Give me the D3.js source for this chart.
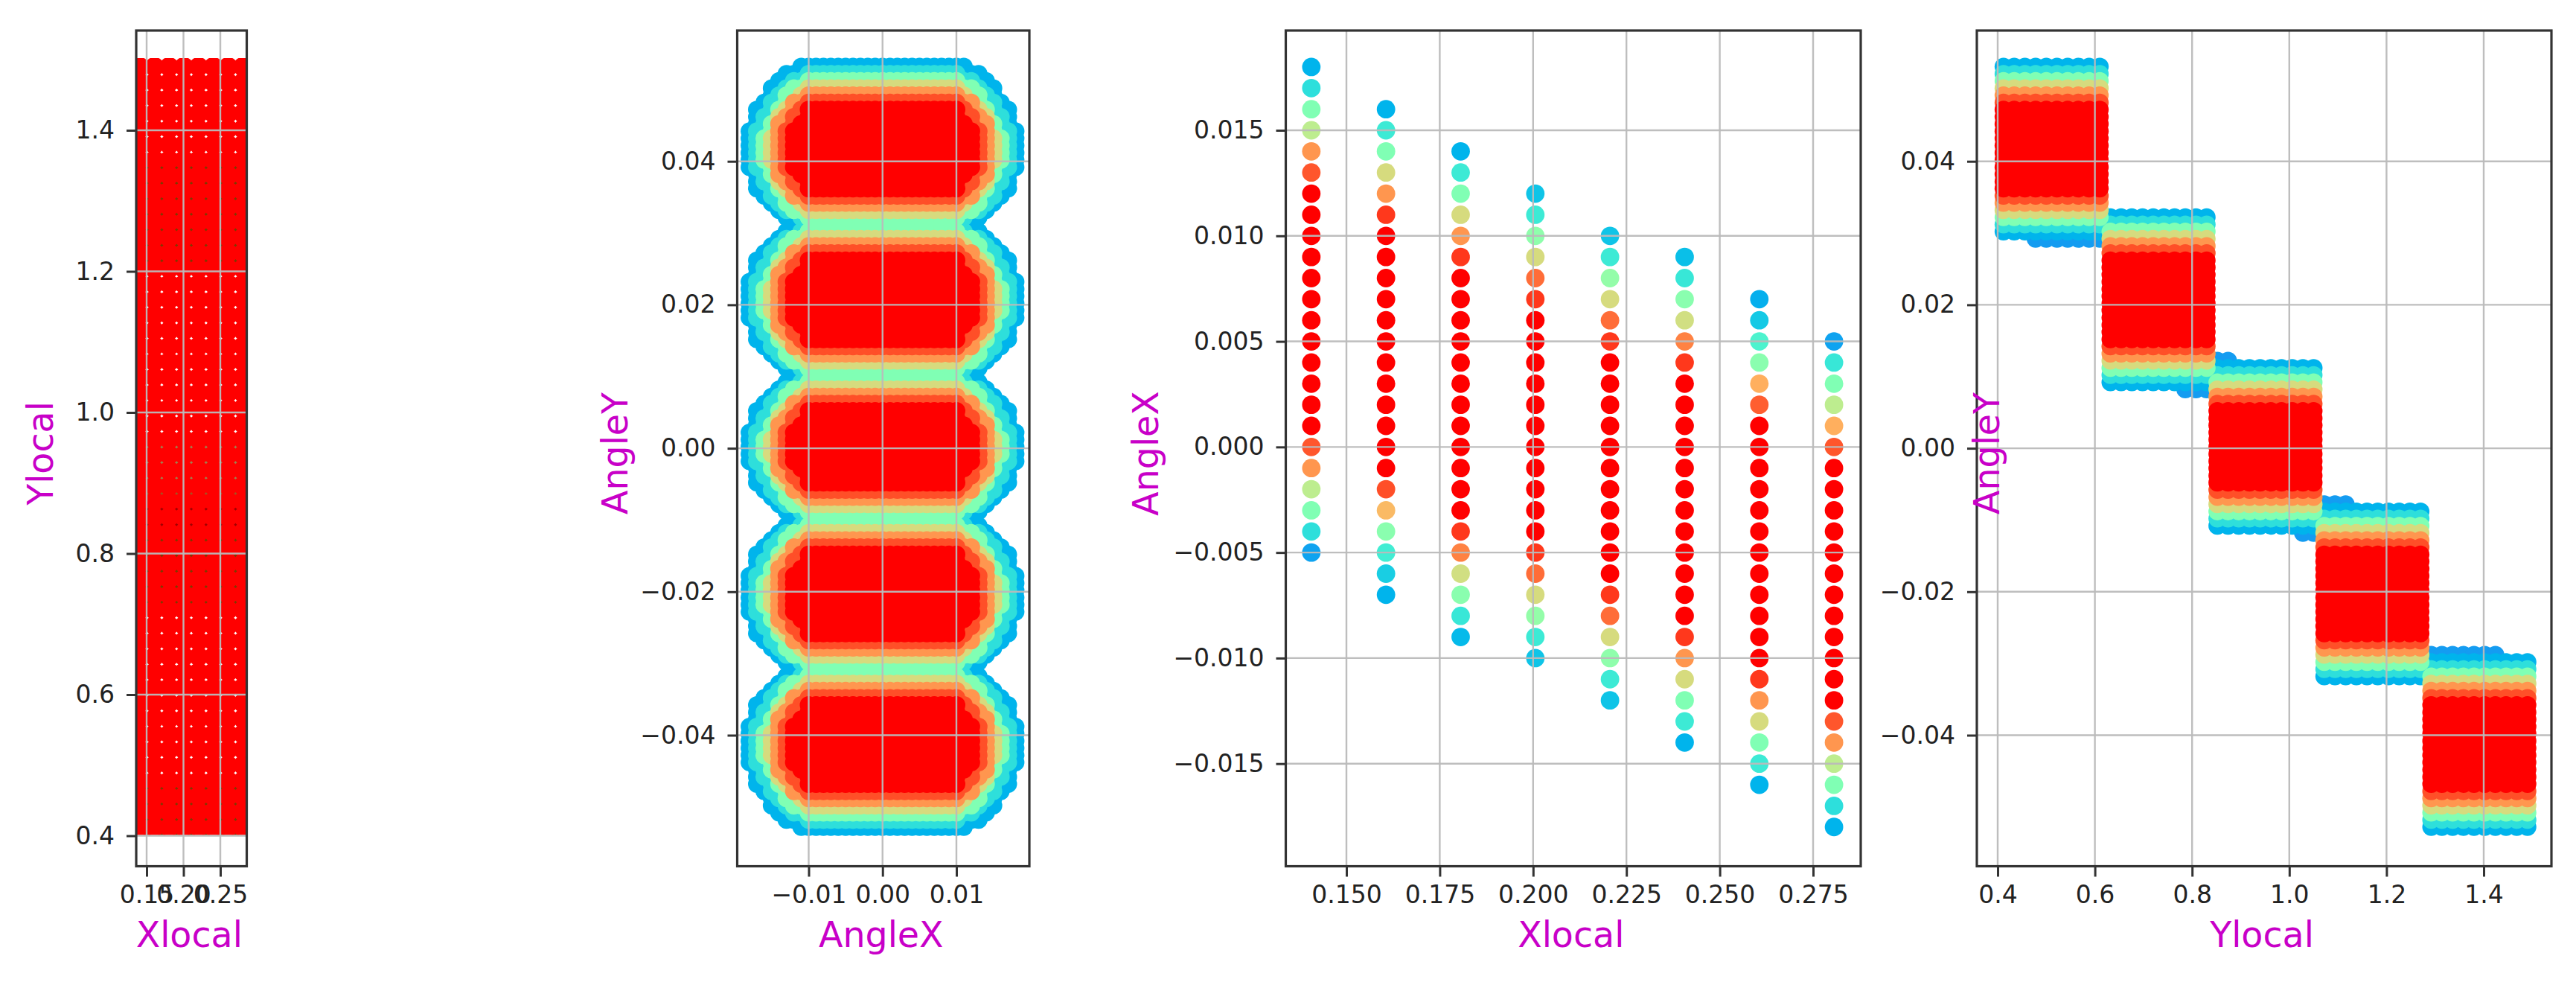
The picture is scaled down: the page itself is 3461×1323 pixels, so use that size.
<!DOCTYPE html>
<html>
<head>
<meta charset="utf-8">
<script src="https://cdn.jsdelivr.net/npm/d3@7"></script>
<style>
  html, body { margin: 0; padding: 0; background: #fff; }
  svg { display: block; }
  text { font-family: "DejaVu Sans", sans-serif; }
</style>
</head>
<body>
<svg id="chart" width="3461" height="1323"></svg>
<script>
// ---------- values ----------
const xlocalColumns = [0.1406, 0.1606, 0.1806, 0.2006, 0.2206, 0.2406, 0.2606, 0.2806];
const xlocalGaps = [0.1506, 0.1706, 0.1906, 0.2106, 0.2306, 0.2506, 0.2706];
const ylocalRows = [
  1.490, 1.468, 1.446, 1.424, 1.402, 1.380, 1.358, 1.336, 1.314, 1.292,
  1.270, 1.248, 1.226, 1.204, 1.182, 1.160, 1.138, 1.116, 1.094, 1.072,
  1.050, 1.028, 1.006, 0.984, 0.962, 0.940, 0.918, 0.896, 0.874, 0.852,
  0.830, 0.808, 0.786, 0.764, 0.742, 0.720, 0.698, 0.676, 0.654, 0.632,
  0.610, 0.588, 0.566, 0.544, 0.522, 0.500, 0.478, 0.456, 0.434, 0.412];
const ylocalGaps = [
  1.501, 1.479, 1.457, 1.435, 1.413, 1.391, 1.369, 1.347, 1.325, 1.303,
  1.281, 1.259, 1.237, 1.215, 1.193, 1.171, 1.149, 1.127, 1.105, 1.083,
  1.061, 1.039, 1.017, 0.995, 0.973, 0.951, 0.929, 0.907, 0.885, 0.863,
  0.841, 0.819, 0.797, 0.775, 0.753, 0.731, 0.709, 0.687, 0.665, 0.643,
  0.621, 0.599, 0.577, 0.555, 0.533, 0.511, 0.489, 0.467, 0.445, 0.423, 0.401];
// 0 = open, 1 = brown, 2 = tan, 3 = rust, 4 = dark red
const gapTones = [
  0,0,0,0,0,0,0,1,1,1, 1,1,1,1,0,0,0,0,0,0,
  0,0,0,0,0,2,2,2,3,4, 4,1,1,1,1,1,0,0,0,0,
  0,0,0,0,0,0,0,1,1,1, 1];

// Panel 3: AngleX span of every Xlocal column and the intensity at each end
const columnTopAngleX = [0.018, 0.016, 0.014, 0.012, 0.010, 0.009, 0.007, 0.005];
const columnBottomAngleX = [-0.005, -0.007, -0.009, -0.010, -0.012, -0.014, -0.016, -0.018];
const columnTopIntensity = [
  [0.25, 0.338, 0.50, 0.62, 0.80, 0.89],
  [0.25, 0.37, 0.50, 0.67, 0.80, 0.93],
  [0.25, 0.37, 0.50, 0.67, 0.80, 0.93],
  [0.28, 0.37, 0.53, 0.67, 0.86, 0.93],
  [0.28, 0.37, 0.54, 0.67, 0.86, 0.93],
  [0.27, 0.36, 0.52, 0.66, 0.83, 0.93],
  [0.24, 0.29, 0.40, 0.52, 0.76, 0.88],
  [0.22, 0.36, 0.50, 0.62, 0.76, 0.89]];
const columnBottomIntensity = [
  [0.22, 0.34, 0.50, 0.62, 0.80, 0.89],
  [0.25, 0.30, 0.38, 0.52, 0.74, 0.90],
  [0.26, 0.36, 0.52, 0.66, 0.83, 0.93],
  [0.28, 0.37, 0.54, 0.67, 0.86, 0.93],
  [0.28, 0.37, 0.53, 0.67, 0.86, 0.93],
  [0.25, 0.37, 0.50, 0.67, 0.80, 0.93],
  [0.25, 0.37, 0.50, 0.67, 0.80, 0.93],
  [0.25, 0.338, 0.50, 0.62, 0.80, 0.89]];

// Panels 2 and 4: five lobes, each read as rows of AngleY
const lobeTopAngleY = [0.0532, 0.0322, 0.0112, -0.0088, -0.0298];
const lobeRowCounts = [24, 24, 23, 24, 24];
const lobeYlocalFirst = [0, 10, 20, 30, 40];     // index into reversed ylocalRows
const bandIntensity = [0.25, 0.34, 0.50, 0.67, 0.80, 0.90, 1.0];
// half width (in AngleX steps of 0.001) per band, for rows counted in from a lobe's edge
const blueHalfWidths   = [11, 13, 14, 15, 15, 16, 17, 17, 17, 18, 18, 18];
const tealHalfWidths   = [-1, 10, 12, 13, 14, 15, 15, 16, 16, 17, 17, 17];
const mintHalfWidths   = [-1, -1, 10, 12, 13, 13, 14, 14, 15, 15, 16, 16];
const khakiHalfWidths  = [-1, -1, -1, 10, 11, 12, 13, 14, 14, 14, 15, 15];
const orangeHalfWidths = [-1, -1, -1, -1, 10, 12, 12, 13, 14, 14, 14, 14];
const emberHalfWidths  = [-1, -1, -1, -1, -1, 10, 11, 12, 12, 13, 13, 13];
const redHalfWidths    = [-1, -1, -1, -1, -1, -1, 10, 10, 11, 12, 12, 12];
// the edges that face a neighbouring lobe are narrower than the outer rim
const blueNeckHalfWidths = [10, 11, 13, 14, 15, 16, 17, 17, 17, 18, 18, 18];
const tealNeckHalfWidths = [-1, 10, 11, 13, 14, 15, 15, 16, 16, 17, 17, 17];
const rimBands = [blueHalfWidths, tealHalfWidths, mintHalfWidths, khakiHalfWidths,
                  orangeHalfWidths, emberHalfWidths, redHalfWidths];
const neckBands = [blueNeckHalfWidths, tealNeckHalfWidths, mintHalfWidths, khakiHalfWidths,
                   orangeHalfWidths, emberHalfWidths, redHalfWidths];
// Panel 4: short extra rows just outside the blocks
const spurAngleY = [0.0292, 0.0082, 0.0122, -0.0118, -0.0078, -0.0288];
const spurFirstYlocal = [0.478, 0.786, 0.852, 1.028, 1.072, 1.292];
const spurLastYlocal = [0.610, 0.830, 0.874, 1.050, 1.116, 1.424];
const spurIntensity = [0.21, 0.21, 0.21, 0.21, 0.21, 0.21];

const xTicksP1 = [0.15, 0.20, 0.25];
const yTicksP1 = [0.4, 0.6, 0.8, 1.0, 1.2, 1.4];
const xTicksP2 = [-0.01, 0.00, 0.01];
const yTicksAngle = [-0.04, -0.02, 0.00, 0.02, 0.04];
const xTicksP3 = [0.150, 0.175, 0.200, 0.225, 0.250, 0.275];
const yTicksP3 = [-0.015, -0.010, -0.005, 0.000, 0.005, 0.010, 0.015];
const xTicksP4 = [0.4, 0.6, 0.8, 1.0, 1.2, 1.4];

// ---------- derived marks ----------
const rainbowColor = t => {
  const cl = v => Math.round(255 * Math.max(0, Math.min(1, v)));
  return `rgb(${cl(Math.abs(2 * t - 0.5))},${cl(Math.sin(Math.PI * t))},${cl(Math.cos(Math.PI * t / 2))})`;
};
const colorScale = d3.scaleSequential(rainbowColor).domain([0, 1]);
const toneColor = d3.scaleOrdinal().domain([1, 2, 3, 4]).range(["#7a3c00", "#a08050", "#a85020", "#a00000"]);

const lobeCells = [];   // Panel 2
const blockCells = [];  // Panel 4
const ylocalAscending = ylocalRows.slice().reverse();
lobeTopAngleY.forEach((top, li) => {
  const n = lobeRowCounts[li];
  d3.range(n).forEach(i => {
    const edge = Math.min(i, n - 1 - i);
    const upperHalf = i < n / 2;
    const outerRim = (li === 0 && upperHalf) || (li === lobeTopAngleY.length - 1 && !upperHalf);
    const bands = outerRim ? rimBands : neckBands;
    const angleY = top - i * 0.001;
    let rowBand = -1;
    d3.range(-18, 19).forEach(k => {
      let band = -1;
      bands.forEach((hw, b) => { if (Math.abs(k) <= hw[edge]) band = b; });
      if (band >= 0) {
        lobeCells.push({ angleX: k * 0.001, angleY, value: bandIntensity[band] });
        rowBand = Math.max(rowBand, band);
      }
    });
    d3.range(10).forEach(j => blockCells.push({
      ylocal: ylocalAscending[lobeYlocalFirst[li] + j], angleY, value: bandIntensity[rowBand]
    }));
  });
});
spurAngleY.forEach((a, s) => {
  ylocalAscending.filter(v => v >= spurFirstYlocal[s] && v <= spurLastYlocal[s])
    .forEach(v => blockCells.push({ ylocal: v, angleY: a, value: spurIntensity[s] }));
});

const columnCells = [];  // Panel 3
xlocalColumns.forEach((x, c) => {
  const steps = Math.round((columnTopAngleX[c] - columnBottomAngleX[c]) * 1000);
  d3.range(steps + 1).forEach(i => {
    const fromBottom = steps - i;
    const value = i < 6 ? columnTopIntensity[c][i]
                : fromBottom < 6 ? columnBottomIntensity[c][fromBottom] : 1;
    columnCells.push({ xlocal: x, angleX: columnTopAngleX[c] - i * 0.001, value });
  });
});

// ---------- panels ----------
const svg = d3.select("#chart");
const defs = svg.append("defs");
const TOP = 41, BOTTOM = 1163.5;
const LABEL = "#c800c8", TICKTEXT = "#222", SPINE = "#333", GRID = "#bbb";

const p1 = {
  id: "p1", L: 183, R: 331.5, clipTop: 78, clipBottom: 1121.5,
  x: d3.scaleLinear().domain([0.15, 0.25]).range([197, 296]),
  y: d3.scaleLinear().domain([1.4, 0.4]).range([175, 1122.5]),
  xt: xTicksP1, yt: yTicksP1, xf: ".2f", yf: ".1f",
  xl: "Xlocal", yl: "Ylocal", ylX: 71
};
const p2 = {
  id: "p2", L: 990.5, R: 1383,
  x: d3.scaleLinear().domain([-0.01, 0.01]).range([1086.5, 1285]),
  y: d3.scaleLinear().domain([0.04, -0.04]).range([216.7, 987.5]),
  xt: xTicksP2, yt: yTicksAngle, xf: ".2f", yf: ".2f",
  xl: "AngleX", yl: "AngleY", ylX: 843
};
const p3 = {
  id: "p3", L: 1727.5, R: 2500,
  x: d3.scaleLinear().domain([0.15, 0.275]).range([1809, 2436]),
  y: d3.scaleLinear().domain([0.015, -0.015]).range([175, 1025.7]),
  xt: xTicksP3, yt: yTicksP3, xf: ".3f", yf: ".3f",
  xl: "Xlocal", yl: "AngleX", ylX: 1556
};
const p4 = {
  id: "p4", L: 2656, R: 3428,
  x: d3.scaleLinear().domain([0.4, 1.4]).range([2684, 3337]),
  y: d3.scaleLinear().domain([0.04, -0.04]).range([216.7, 987.5]),
  xt: xTicksP4, yt: yTicksAngle, xf: ".1f", yf: ".2f",
  xl: "Ylocal", yl: "AngleY", ylX: 2686
};

function drawPanel(p, drawMarks) {
  const cTop = p.clipTop === undefined ? TOP : p.clipTop;
  const cBot = p.clipBottom === undefined ? BOTTOM : p.clipBottom;
  defs.append("clipPath").attr("id", "clip-" + p.id).append("rect")
    .attr("x", p.L).attr("y", cTop).attr("width", p.R - p.L).attr("height", cBot - cTop);
  const g = svg.append("g");
  const marks = g.append("g").attr("clip-path", `url(#clip-${p.id})`);
  drawMarks(marks, p);

  // grid above the marks, as in the reference
  const gridG = g.append("g");
  gridG.selectAll("line.gx").data(p.xt).join("line").attr("class", "gx")
    .attr("x1", d => p.x(d)).attr("x2", d => p.x(d)).attr("y1", TOP).attr("y2", BOTTOM)
    .attr("stroke", GRID).attr("stroke-width", 2.4).attr("opacity", 0.95);
  gridG.selectAll("line.gy").data(p.yt).join("line").attr("class", "gy")
    .attr("y1", d => p.y(d)).attr("y2", d => p.y(d)).attr("x1", p.L).attr("x2", p.R)
    .attr("stroke", GRID).attr("stroke-width", 2.4).attr("opacity", 0.95);

  const axB = d3.axisBottom(p.x).tickValues(p.xt).tickFormat(d3.format(p.xf)).tickSize(14).tickPadding(12);
  const axL = d3.axisLeft(p.y).tickValues(p.yt).tickFormat(d3.format(p.yf)).tickSize(13).tickPadding(16);
  [g.append("g").attr("transform", `translate(0,${BOTTOM})`).call(axB),
   g.append("g").attr("transform", `translate(${p.L},0)`).call(axL)].forEach(a => {
    a.select(".domain").remove();
    a.selectAll("line").attr("stroke", SPINE).attr("stroke-width", 3);
    a.selectAll("text").attr("font-size", 33).attr("fill", TICKTEXT);
  });

  g.append("rect").attr("x", p.L).attr("y", TOP).attr("width", p.R - p.L).attr("height", BOTTOM - TOP)
    .attr("fill", "none").attr("stroke", SPINE).attr("stroke-width", 3.2);

  g.append("text").text(p.xl).attr("x", (p.L + p.R) / 2 - 3).attr("y", 1272)
    .attr("text-anchor", "middle").attr("font-size", 47.5).attr("fill", LABEL);
  g.append("text").text(p.yl).attr("text-anchor", "middle").attr("font-size", 47.5).attr("fill", LABEL)
    .attr("transform", `translate(${p.ylX},609) rotate(-90)`);
}

const R = 12;

drawPanel(p1, (m, p) => {
  const gapMarks = [];
  ylocalGaps.forEach((y, r) => {
    if (gapTones[r]) xlocalGaps.forEach(x => gapMarks.push({ x, y, tone: gapTones[r] }));
  });
  m.selectAll("circle.gap").data(gapMarks).join("circle").attr("class", "gap")
    .attr("cx", d => p.x(d.x)).attr("cy", d => p.y(d.y)).attr("r", 5)
    .attr("fill", d => toneColor(d.tone));
  const pts = d3.cross(xlocalColumns, ylocalRows);
  m.selectAll("circle.pt").data(pts).join("circle").attr("class", "pt")
    .attr("cx", d => p.x(d[0])).attr("cy", d => p.y(d[1])).attr("r", 13)
    .attr("fill", colorScale(1));
});

drawPanel(p2, (m, p) => {
  m.selectAll("circle").data(d3.sort(lobeCells, d => d.value)).join("circle")
    .attr("cx", d => p.x(d.angleX)).attr("cy", d => p.y(d.angleY)).attr("r", R)
    .attr("fill", d => colorScale(d.value));
});

drawPanel(p3, (m, p) => {
  m.selectAll("circle").data(d3.sort(columnCells, d => d.value)).join("circle")
    .attr("cx", d => p.x(d.xlocal)).attr("cy", d => p.y(d.angleX)).attr("r", 12.4)
    .attr("fill", d => colorScale(d.value));
});

drawPanel(p4, (m, p) => {
  m.selectAll("circle").data(d3.sort(blockCells, d => d.value)).join("circle")
    .attr("cx", d => p.x(d.ylocal)).attr("cy", d => p.y(d.angleY)).attr("r", R)
    .attr("fill", d => colorScale(d.value));
});
</script>
</body>
</html>
